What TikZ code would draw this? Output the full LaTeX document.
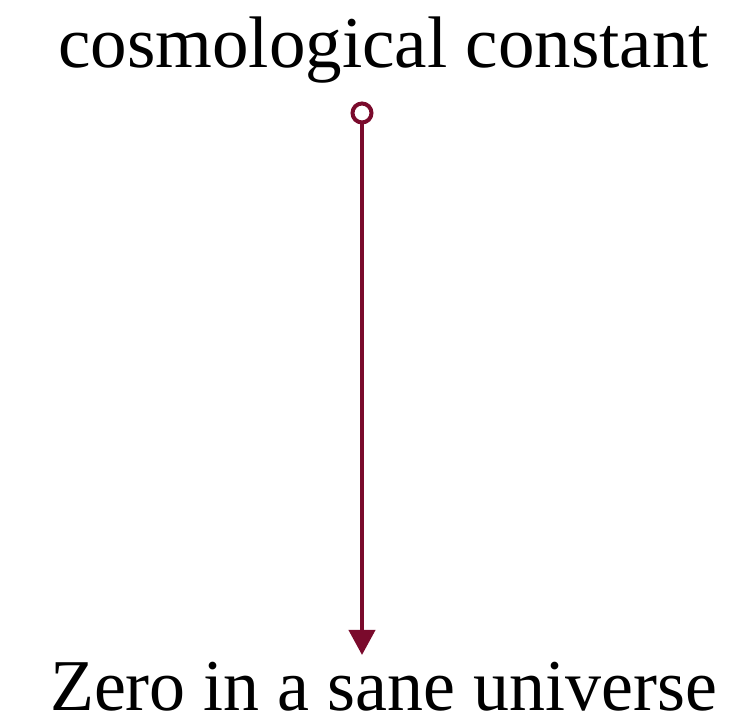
\documentclass[tikz,border=0pt]{standalone}
\usepackage{fontspec}
\setmainfont{Liberation Serif}
\usetikzlibrary{arrows.meta, positioning}
\definecolor{wine}{HTML}{7A0A2C}

\begin{document}
\begin{tikzpicture}[x=1pt, y=1pt, line cap=round,
  lbl/.style={inner sep=0pt, font=\fontsize{73}{80}\selectfont},
  opendot/.style={circle, draw=wine, fill=white, line width=4pt, minimum size=19pt, inner sep=0pt},
  flow/.style={draw=wine, line width=4pt, -{Triangle[length=25pt, width=26pt]}}]

% Rahmen
\useasboundingbox (0,0) rectangle (737,722);

% Texte
\node[lbl, anchor=base] (const) at (383.5,654) {cosmological constant};
\node[lbl, anchor=base, xscale=0.985] (zero) at (383.5,11) {Zero in a sane universe};

% Pfeil
\node[opendot] (src) at (362,609) {};
\coordinate (tip) at (362,67);
\draw[flow] (src) -- (tip);

\end{tikzpicture}
\end{document}
